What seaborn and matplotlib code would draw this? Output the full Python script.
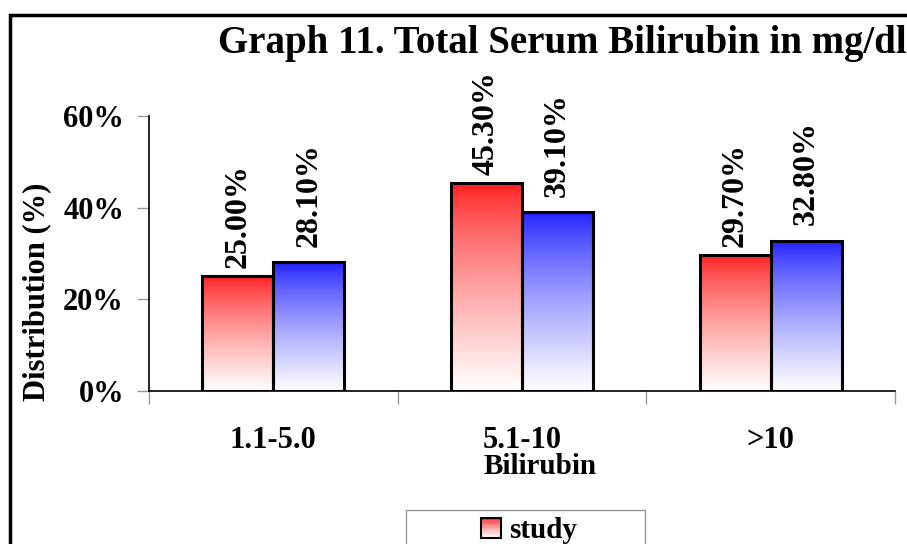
import numpy as np
import pandas as pd
import matplotlib
matplotlib.use("Agg")
import matplotlib.pyplot as plt
import seaborn as sns
from matplotlib.patches import Rectangle
from matplotlib.legend_handler import HandlerBase
from matplotlib.ticker import FuncFormatter, FixedLocator
from matplotlib.colors import to_rgb

categories = ["1.1-5.0", "5.1-10", ">10"]
study = [25.0, 45.3, 29.7]
control = [28.1, 39.1, 32.8]
series_names = ["study", "control"]
title = "Graph 11. Total Serum Bilirubin in mg/dl"

sns.set_theme(style="white")
plt.rcParams['font.family'] = ['Liberation Serif', 'DejaVu Serif']
plt.rcParams['font.weight'] = 'bold'
plt.rcParams['text.color'] = 'black'
plt.rcParams['axes.labelcolor'] = 'black'
plt.rcParams['xtick.labelcolor'] = 'black'
plt.rcParams['ytick.labelcolor'] = 'black'

df = pd.DataFrame({
    "cat": categories * 2,
    "val": study + control,
    "series": [series_names[0]] * 3 + [series_names[1]] * 3,
})

colors = {"study": "#FF1A1A", "control": "#1A1AFF"}

fig = plt.figure(figsize=(9.07, 5.44), dpi=100)
W, H = 907, 544
ax = fig.add_axes([149 / W, 1 - 391 / H, (895 - 149) / W, (391 - 116) / H])

sns.barplot(data=df, x="cat", y="val", hue="series", order=categories,
            hue_order=series_names, palette=colors, width=0.57, gap=0,
            ax=ax, legend=False, saturation=1)

def gradient_img(color):
    c = np.array(to_rgb(color))
    t = np.linspace(0, 1, 256)[:, None] ** 0.75  # 0 top -> 1 bottom
    rgb = c[None, :] * (1 - t) + np.array([1, 1, 1])[None, :] * t
    return rgb[:, None, :]

for patch in list(ax.patches):
    fc = patch.get_facecolor()
    x, y = patch.get_x(), patch.get_y()
    w, h = patch.get_width(), patch.get_height()
    ax.imshow(gradient_img(fc[:3]), extent=[x, x + w, y, y + h], aspect="auto",
              origin="upper", zorder=1.5, interpolation="bilinear")
    patch.set_facecolor("none")
    patch.set_edgecolor("black")
    patch.set_linewidth(2.2)
    patch.set_zorder(2)

for i, cont in enumerate(ax.containers):
    vals = study if i == 0 else control
    ax.bar_label(cont, labels=[f"{v:.2f}%" for v in vals], rotation=90,
                 padding=6 if i == 0 else 11, fontsize=23, fontweight="bold",
                 color="black")

ax.set_xlim(-0.5, 2.5)
ax.set_ylim(0, 60)
ax.yaxis.set_major_locator(FixedLocator([0, 20, 40, 60]))
ax.yaxis.set_major_formatter(FuncFormatter(lambda v, p: f"{int(v)}%"))
ax.set_xticks(range(3))
ax.set_xticklabels(categories)
ax.set_xticks([-0.5, 0.5, 1.5, 2.5], minor=True)
ax.tick_params(axis="x", which="major", length=0, pad=25, labelsize=22)
ax.tick_params(axis="x", which="minor", length=9, width=1, color="#999999",
               direction="out", bottom=True)
ax.tick_params(axis="y", which="major", length=9, width=1, color="#999999",
               direction="out", left=True, labelsize=22, pad=9)
for lab in ax.get_xticklabels() + ax.get_yticklabels():
    lab.set_fontweight("bold")
    lab.set_color("black")

for s in ["top", "right"]:
    ax.spines[s].set_visible(False)
for s in ["left", "bottom"]:
    ax.spines[s].set_color("black")
    ax.spines[s].set_linewidth(1.2)

ax.set_xlabel("Bilirubin", fontsize=21, fontweight="bold", color="black")
ax.xaxis.set_label_coords((540 - 149) / (895 - 149), -(466 - 391) / (391 - 116))
ax.xaxis.label.set_va("center")
ax.set_ylabel("Distribution (%)", fontsize=22, fontweight="bold", color="black")
ax.yaxis.set_label_coords(-(149 - 37) / (895 - 149), (391 - 292) / (391 - 116))
ax.yaxis.label.set_va("center")

fig.text(218 / W, 1 - 53 / H, title, fontsize=28, fontweight="bold",
         ha="left", va="baseline", color="black")

# figure frame
fig.patches.append(Rectangle((10 / W, -0.2), 1.2, 1 - 15 / H + 0.2,
                             transform=fig.transFigure, fill=False,
                             edgecolor="black", linewidth=2.5))
# legend frame
fig.patches.append(Rectangle((406 / W, -0.2), (645 - 406) / W, 1 - 510 / H + 0.2,
                             transform=fig.transFigure, fill=False,
                             edgecolor="#999999", linewidth=1.0))


class GradientHandler(HandlerBase):
    def create_artists(self, legend, orig_handle, xdescent, ydescent, width,
                       height, fontsize, trans):
        color = orig_handle.get_facecolor()[:3]
        arts = []
        n = 8
        c = np.array(color)
        for k in range(n):
            t = ((k + 0.5) / n) ** 0.75
            col = c * (1 - t) + np.ones(3) * t
            r = Rectangle((-xdescent, -ydescent + height * (1 - (k + 1) / n)),
                          width, height / n, facecolor=col, edgecolor="none",
                          transform=trans)
            arts.append(r)
        arts.append(Rectangle((-xdescent, -ydescent), width, height,
                              facecolor="none", edgecolor="black",
                              linewidth=1.5, transform=trans))
        return arts


handles = [Rectangle((0, 0), 1, 1, facecolor=colors[s]) for s in series_names]
leg = fig.legend(handles, series_names, handler_map={Rectangle: GradientHandler()},
                 loc="upper left",
                 bbox_to_anchor=(481 / W, 1 - 517 / H),
                 frameon=False,
                 prop={"family": "Liberation Serif", "weight": "bold", "size": 21},
                 handlelength=0.7, handleheight=0.7, handletextpad=0.25,
                 borderpad=0, labelspacing=0.3, borderaxespad=0)
for t in leg.get_texts():
    t.set_color("black")

fig.savefig("out.png", dpi=100)
